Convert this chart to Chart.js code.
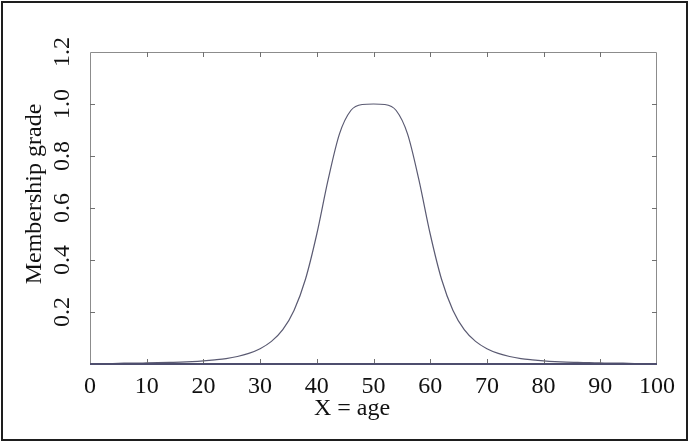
<!DOCTYPE html>
<html>
<head>
<meta charset="utf-8">
<script src="https://cdn.jsdelivr.net/npm/chart.js@4.4.1/dist/chart.umd.min.js"></script>
<style>
  html, body { margin: 0; padding: 0; background: #fff; }
  #wrap { position: relative; width: 694px; height: 444px; overflow: hidden; }
  #frame { position: absolute; left: 1px; top: 1px; width: 683px; height: 436px; border: 2px solid #1e1e1e; }
  #chart { position: absolute; left: 0; top: 0; }
</style>
</head>
<body>
<div id="wrap">
  <canvas id="chart" width="694" height="444"></canvas>
  <div id="frame"></div>
</div>
<script>
// ages read along the x axis
const ages = [
  0, 2, 4, 6, 8, 10, 12, 14, 16, 18, 20, 22, 24, 26, 28, 30, 32, 34, 36, 38, 40, 42, 44, 46, 48,
  50, 52, 54, 56, 58, 60, 62, 64, 66, 68, 70, 72, 74, 76, 78, 80, 82, 84, 86, 88, 90, 92, 94, 96, 98, 100
];
// membership grade
const grades = [
  0.002, 0.002, 0.002, 0.003, 0.003, 0.004, 0.005, 0.006, 0.007, 0.009, 0.012, 0.016, 0.021, 0.029, 0.041,
  0.059, 0.087, 0.132, 0.207, 0.326, 0.5, 0.709, 0.885, 0.975, 0.998,
  1.0,
  0.998, 0.975, 0.885, 0.709, 0.5, 0.326, 0.207, 0.132, 0.087, 0.059,
  0.041, 0.029, 0.021, 0.016, 0.012, 0.009, 0.007, 0.006, 0.005, 0.004, 0.003, 0.003, 0.002, 0.002, 0.002
];
const xTicks = [0, 10, 20, 30, 40, 50, 60, 70, 80, 90, 100];
const yTicks = [0, 0.2, 0.4, 0.6, 0.8, 1.0, 1.2];
const xTitle = "X = age";
const yTitle = "Membership grade";

const serif = "'Liberation Serif', 'Times New Roman', serif";

// box round the plot with inward tick marks, plus the axis titles
const frameAndTitles = {
  id: "frameAndTitles",
  afterDatasetsDraw(chart) {
    const { ctx, chartArea: a, scales: { x, y } } = chart;
    ctx.save();
    ctx.lineWidth = 1;
    ctx.strokeStyle = "#8c8c8c";
    ctx.beginPath();
    ctx.moveTo(a.left + 0.5, a.bottom);
    ctx.lineTo(a.left + 0.5, a.top + 0.5);
    ctx.lineTo(a.right - 0.5, a.top + 0.5);
    ctx.lineTo(a.right - 0.5, a.bottom);
    ctx.stroke();

    const len = 5;
    ctx.strokeStyle = "#707070";
    ctx.beginPath();
    xTicks.forEach(v => {
      if (v === 0 || v === 100) return;
      const px = Math.round(x.getPixelForValue(v)) + 0.5;
      ctx.moveTo(px, a.bottom);
      ctx.lineTo(px, a.bottom - len);
      ctx.moveTo(px, a.top);
      ctx.lineTo(px, a.top + len);
    });
    yTicks.forEach(v => {
      if (v === 0 || v === 1.2) return;
      const py = Math.round(y.getPixelForValue(v)) + 0.5;
      ctx.moveTo(a.left, py);
      ctx.lineTo(a.left + len, py);
      ctx.moveTo(a.right, py);
      ctx.lineTo(a.right - len, py);
    });
    ctx.stroke();

    // bottom axis line, darker
    ctx.lineWidth = 2;
    ctx.strokeStyle = "#4e4e6e";
    ctx.beginPath();
    ctx.moveTo(a.left, a.bottom);
    ctx.lineTo(a.right, a.bottom);
    ctx.stroke();

    ctx.fillStyle = "#111";
    ctx.font = "24px " + serif;
    ctx.textAlign = "center";
    ctx.textBaseline = "middle";
    ctx.fillText(xTitle, 352, 409);
    ctx.translate(35, 194);
    ctx.rotate(-Math.PI / 2);
    ctx.fillText(yTitle, 0, 0);
    ctx.restore();
  }
};

new Chart(document.getElementById("chart"), {
  type: "line",
  data: {
    datasets: [{
      data: ages.map((a, i) => ({ x: a, y: grades[i] })),
      borderColor: "#5a5a72",
      borderWidth: 1.2,
      pointRadius: 0,
      cubicInterpolationMode: "monotone",
      fill: false
    }]
  },
  options: {
    responsive: false,
    animation: false,
    layout: { padding: { left: 0, top: 52, right: 37, bottom: 0 } },
    plugins: {
      legend: { display: false },
      tooltip: { enabled: false }
    },
    scales: {
      x: {
        type: "linear",
        min: 0,
        max: 100,
        afterFit: s => { s.height = 80; },
        afterBuildTicks: s => { s.ticks = xTicks.map(v => ({ value: v })); },
        grid: { display: false, drawTicks: false },
        border: { display: false },
        ticks: {
          color: "#111",
          font: { family: serif, size: 24 },
          padding: 8,
          maxRotation: 0,
          autoSkip: false,
          callback: v => String(v)
        }
      },
      y: {
        min: 0,
        max: 1.2,
        afterFit: s => { s.width = 90; },
        afterBuildTicks: s => { s.ticks = yTicks.map(v => ({ value: v })); },
        grid: { display: false, drawTicks: false },
        border: { display: false },
        ticks: {
          color: "#111",
          font: { family: serif, size: 24 },
          padding: 12,
          minRotation: 90,
          maxRotation: 90,
          crossAlign: "center",
          callback: v => (v === 0 ? "" : v.toFixed(1))
        }
      }
    }
  },
  plugins: [frameAndTitles]
});
</script>
</body>
</html>
